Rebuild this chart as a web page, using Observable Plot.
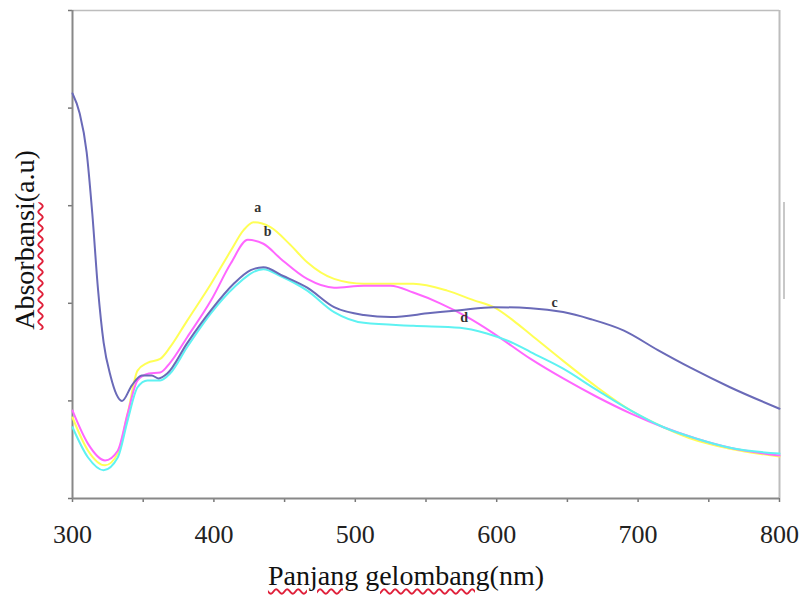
<!DOCTYPE html>
<html>
<head>
<meta charset="utf-8">
<script src="https://cdn.jsdelivr.net/npm/d3@7"></script>
<script src="https://cdn.jsdelivr.net/npm/@observablehq/plot@0.6"></script>
<style>
  html, body { margin: 0; padding: 0; background: #fff; }
  #wrap { position: relative; width: 807px; height: 605px; overflow: hidden; font-family: "Liberation Serif", "Times New Roman", serif; }
  #chart { position: absolute; left: 0; top: 0; }
  .ttl { position: absolute; font-family: "Liberation Serif", serif; font-size: 28px; color: #111; white-space: nowrap; }
  .wavy { text-decoration: underline wavy #e0203a; text-decoration-thickness: 1.5px; text-underline-offset: 3px; }
  #xtitle { left: 0; width: 812px; text-align: center; top: 560px; }
  #ytitle { left: 25px; top: 240px; transform: translate(-50%, -50%) rotate(-90deg); }
  #artifact { position: absolute; left: 783px; top: 202px; width: 2px; height: 97px; background: #c8c8c8; }
</style>
</head>
<body>
<div id="wrap">
  <div id="chart"></div>
  <div id="artifact"></div>
  <div class="ttl" id="ytitle"><span class="wavy">Absorbansi</span>(a.u)</div>
  <div class="ttl" id="xtitle"><span class="wavy">Panjang</span> <span class="wavy">gelombang</span>(nm)</div>
</div>
<script>
// Series a (yellow)
const aNm  = [300,311,323,332,339,346,353,362,369,381,398,412,421,428,440,454,466,485,506,541,565,584,598,612,624,647,671,695,718,742,765,800];
const aAbs = [0.83,0.49,0.34,0.46,0.87,1.31,1.39,1.43,1.55,1.82,2.20,2.54,2.75,2.83,2.78,2.60,2.42,2.25,2.20,2.20,2.13,2.03,1.96,1.82,1.68,1.41,1.14,0.90,0.73,0.59,0.51,0.43];
// Series b (magenta)
const bNm  = [300,311,323,332,339,346,354,362,369,381,398,412,424,435,447,466,485,506,525,541,560,579,598,624,647,671,695,718,742,765,800];
const bAbs = [0.90,0.56,0.39,0.49,0.87,1.21,1.28,1.29,1.39,1.65,2.03,2.41,2.65,2.61,2.46,2.25,2.16,2.18,2.18,2.11,2.00,1.86,1.69,1.43,1.23,1.04,0.87,0.73,0.61,0.52,0.44];
// Series c (purple)
const cNm  = [300,305,310,314,318,322,327,331,335,342,349,356,361,367,381,398,414,426,435,449,466,485,506,525,553,574,598,624,647,666,690,714,737,765,800];
const cAbs = [4.15,3.95,3.55,2.92,2.15,1.60,1.25,1.07,1.00,1.16,1.26,1.26,1.23,1.28,1.59,1.93,2.20,2.34,2.37,2.28,2.16,1.96,1.88,1.86,1.90,1.93,1.96,1.95,1.91,1.84,1.72,1.52,1.34,1.14,0.92];
// Series d (cyan)
const dNm  = [300,311,322,332,339,346,353,362,369,381,398,414,435,447,466,485,506,541,574,593,612,624,647,671,695,718,742,765,800];
const dAbs = [0.73,0.42,0.29,0.42,0.80,1.14,1.21,1.21,1.28,1.55,1.90,2.16,2.35,2.28,2.13,1.91,1.80,1.77,1.75,1.69,1.59,1.50,1.33,1.11,0.90,0.73,0.61,0.52,0.46];

const seriesNames  = ["a", "b", "d", "c"];
const seriesColors = {a: "#ffff55", b: "#ff66ff", c: "#6a6ab8", d: "#5ef2f2"};
const labelNm  = [431, 438, 641, 577];
const labelAbs = [2.98, 2.74, 2.01, 1.85];
const labelTxt = ["a", "b", "c", "d"];

const xMajor = [300, 400, 500, 600, 700, 800];
const xMinor = [300, 350, 400, 450, 500, 550, 600, 650, 700, 750, 800];
const yTicks = [0, 1, 2, 3, 4, 5];

const src = {a: [aNm, aAbs], b: [bNm, bAbs], c: [cNm, cAbs], d: [dNm, dAbs]};
const rows = [];
for (const s of seriesNames) {
  const [xs, ys] = src[s];
  xs.forEach((x, i) => rows.push({s, nm: x, abs: ys[i]}));
}
const labels = labelTxt.map((t, i) => ({t, nm: labelNm[i], abs: labelAbs[i]}));

const plot = Plot.plot({
  width: 807,
  height: 550,
  marginLeft: 72,
  marginRight: 28,
  marginTop: 10,
  marginBottom: 52,
  style: {fontFamily: "Liberation Serif, serif", background: "white"},
  x: {domain: [300, 800]},
  y: {domain: [0, 5]},
  marks: [
    Plot.ruleY([5], {stroke: "#bdbdbd", strokeWidth: 1.5}),
    Plot.ruleX([800], {stroke: "#bdbdbd", strokeWidth: 2}),
    Plot.axisX({ticks: xMinor, tickSize: 4, tickFormat: () => "", stroke: "#777", strokeWidth: 1.5, label: null}),
    Plot.axisX({ticks: xMajor, tickSize: 0, tickPadding: 26, fontSize: 26, fill: "#222", label: null, tickFormat: d => String(d)}),
    Plot.axisY({ticks: yTicks, tickSize: 4, tickFormat: () => "", stroke: "#777", strokeWidth: 1.5, label: null}),
    Plot.ruleX([300], {stroke: "#888", strokeWidth: 2}),
    Plot.ruleY([0], {stroke: "#888", strokeWidth: 2}),
    Plot.line(rows, {x: "nm", y: "abs", z: "s", stroke: d => seriesColors[d.s], strokeWidth: 2, curve: "monotone-x"}),
    Plot.text(labels, {x: "nm", y: "abs", text: "t", fontSize: 14, fontWeight: "bold", fill: "#333"})
  ]
});
document.getElementById("chart").appendChild(plot);
</script>
</body>
</html>
